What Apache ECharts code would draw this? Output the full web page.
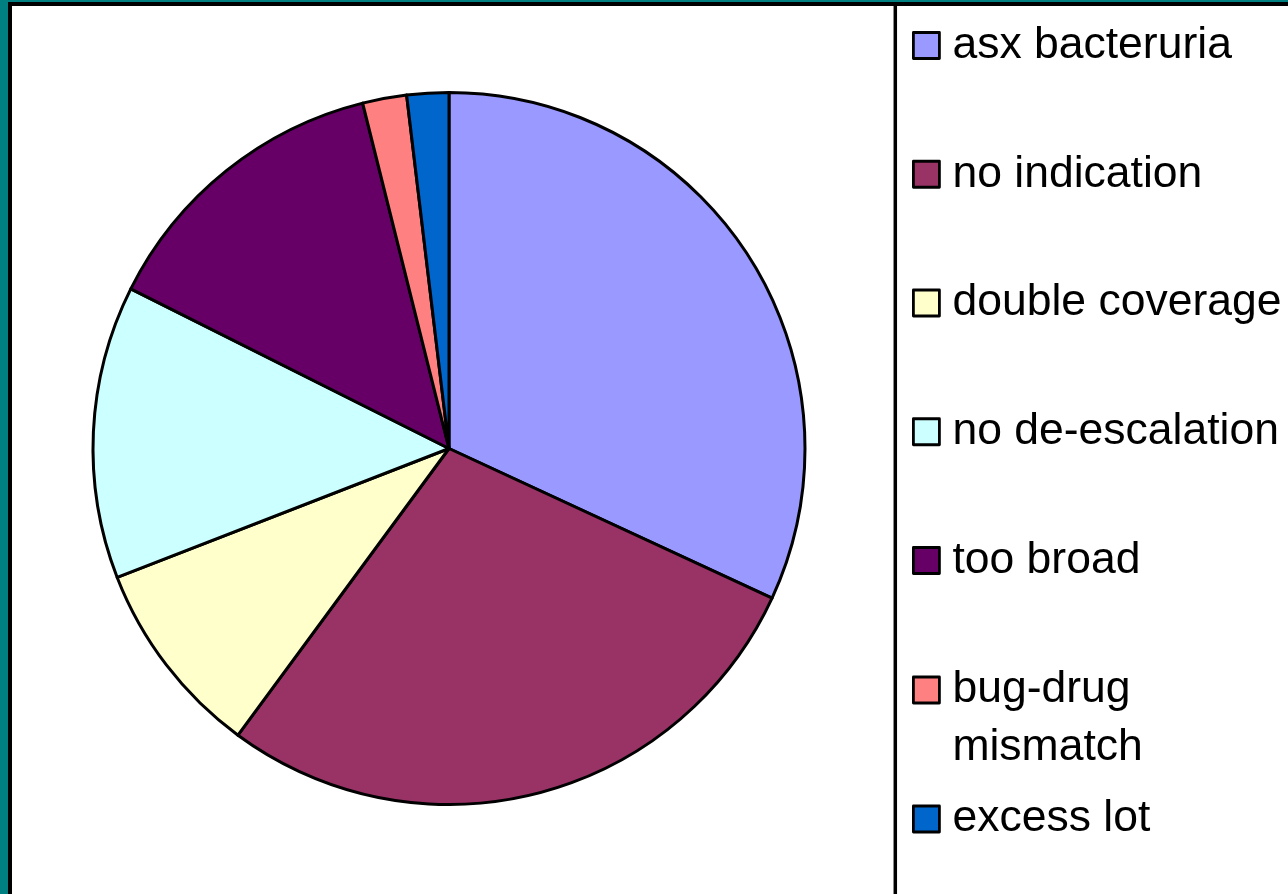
<!DOCTYPE html>
<html>
<head>
<meta charset="utf-8">
<script src="https://cdn.jsdelivr.net/npm/echarts@6/dist/echarts.min.js"></script>
<style>
  html, body { margin: 0; padding: 0; background: #008080; }
  #chart { width: 1288px; height: 894px; }
</style>
</head>
<body>
<div id="chart"></div>
<script>
// categories and shares (clockwise from 12 o'clock)
var categories = ['asx bacteruria', 'no indication', 'double coverage', 'no de-escalation',
                  'too broad', 'bug-drug mismatch', 'excess lot'];
var shares = [31.9, 28.2, 9.0, 13.3, 13.7, 2.0, 1.9];
var colors = ['#9999FF', '#993366', '#FFFFCC', '#CCFFFF', '#660066', '#FF8080', '#0066CC'];

var myChart = echarts.init(document.getElementById('chart'));

var pieData = [];
for (var i = 0; i < categories.length; i++) {
  pieData.push({ name: categories[i], value: shares[i], itemStyle: { color: colors[i] } });
}

var legendText = {
  color: '#000',
  fontFamily: 'Liberation Sans, Arial, sans-serif',
  fontSize: 44.5,
  lineHeight: 58,
  padding: [0, 0, 0, 8]
};
function mkLegend(names, top, fmt) {
  return {
    orient: 'vertical',
    left: 912,
    top: top,
    padding: 0,
    itemGap: 70.75,
    itemWidth: 26,
    itemHeight: 26,
    selectedMode: false,
    icon: 'rect',
    data: names,
    formatter: fmt || '{name}',
    textStyle: legendText,
    itemStyle: { borderColor: '#000', borderWidth: 2.8 }
  };
}

var option = {
  animation: false,
  backgroundColor: '#008080',
  graphic: [
    {
      type: 'rect', z: -10,
      shape: { x: 10, y: 4, width: 1400, height: 1000 },
      style: { fill: '#fff', stroke: '#000', lineWidth: 4 }
    },
    {
      type: 'line', z: -9,
      shape: { x1: 895.3, y1: 4, x2: 895.3, y2: 900 },
      style: { stroke: '#000', lineWidth: 3.5 }
    }
  ],
  legend: [
    mkLegend(categories.slice(0, 5), 16.5),
    mkLegend([categories[5]], 603, function (n) { return '\nbug-drug\nmismatch'; }),
    mkLegend([categories[6]], 790)
  ],
  series: [{
    type: 'pie',
    center: [449, 448.5],
    radius: 356,
    startAngle: 90,
    clockwise: true,
    avoidLabelOverlap: false,
    label: { show: false },
    labelLine: { show: false },
    emphasis: { disabled: true },
    itemStyle: { borderColor: '#000', borderWidth: 3 },
    data: pieData
  }]
};
myChart.setOption(option);
</script>
</body>
</html>
